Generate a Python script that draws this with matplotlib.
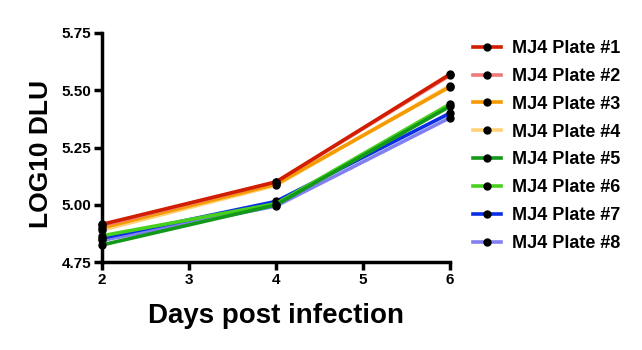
import matplotlib.pyplot as plt

plt.rcParams['font.family'] = ['Liberation Sans', 'DejaVu Sans']
plt.rcParams['font.weight'] = 'bold'

days = [2, 4, 6]
labels = ['MJ4 Plate #%d' % i for i in range(1, 9)]
colors = ['#d21e00', '#f07a7a', '#f59a00', '#ffd27a',
          '#13991a', '#48d01e', '#0a2ee6', '#8080f0']
values = [
    [4.915, 5.100, 5.570],
    [4.910, 5.100, 5.565],
    [4.900, 5.090, 5.515],
    [4.890, 5.085, 5.520],
    [4.825, 5.000, 5.430],
    [4.865, 5.005, 5.440],
    [4.855, 5.015, 5.400],
    [4.845, 4.995, 5.380],
]

fig = plt.figure(figsize=(6.42, 3.5), dpi=100)
ax = fig.add_axes([0.159, 0.251, 0.542, 0.655])

# plate #1 ends up on top
for i, (lab, c, v) in enumerate(zip(labels, colors, values)):
    ax.plot(days, v, color=c, lw=2.6, marker='o', ms=5,
            mfc='black', mec='black', label=lab, clip_on=False,
            zorder=10 - i)

ax.set_xlim(2, 6)
ax.set_ylim(4.75, 5.75)
ax.set_xticks([2, 3, 4, 5, 6])
ax.set_yticks([4.75, 5.00, 5.25, 5.50, 5.75])
ax.set_yticklabels(['4.75', '5.00', '5.25', '5.50', '5.75'])
for s in ['top', 'right']:
    ax.spines[s].set_visible(False)
for s in ['left', 'bottom']:
    ax.spines[s].set_linewidth(2.5)
ax.tick_params(width=2.5, length=6, labelsize=11, pad=2)
for t in ax.get_xticklabels() + ax.get_yticklabels():
    t.set_fontweight('bold')

ax.set_xlabel('Days post infection', fontsize=20, fontweight='bold')
ax.xaxis.set_label_coords(0.5, -0.18)
ax.set_ylabel('LOG10 DLU', fontsize=19, fontweight='bold', labelpad=6)
ax.yaxis.label.set_y(0.47)

leg = ax.legend(loc='upper left', bbox_to_anchor=(0.712, 0.932),
                bbox_transform=fig.transFigure, frameon=False,
                fontsize=13, handlelength=1.55, labelspacing=0.6,
                handletextpad=0.6)
for t in leg.get_texts():
    t.set_fontweight('bold')

fig.savefig('out.png', dpi=100)
